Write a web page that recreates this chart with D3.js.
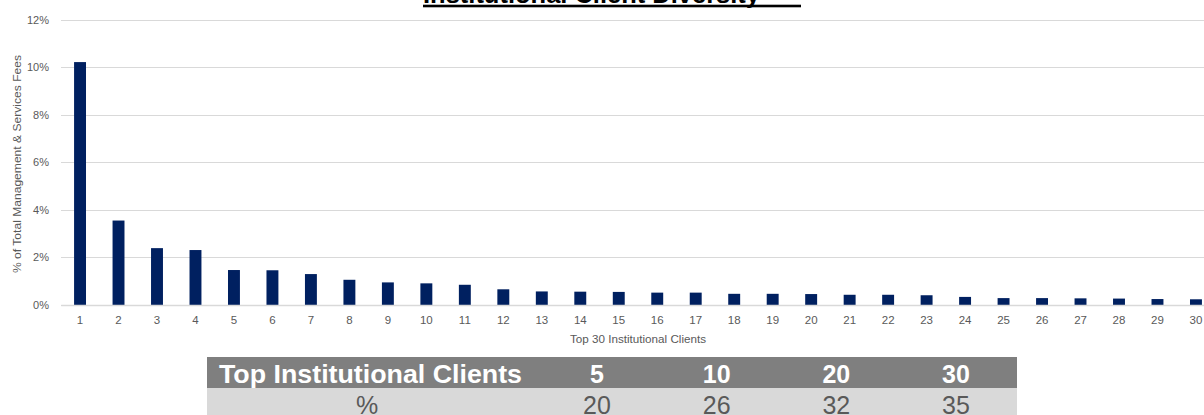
<!DOCTYPE html>
<html>
<head>
<meta charset="utf-8">
<script src="https://cdn.jsdelivr.net/npm/d3@7"></script>
<style>
  body { margin: 0; background: #fff; }
  svg { display: block; }
</style>
</head>
<body>
<svg id="chart" width="1204" height="415"></svg>
<script>
// top 30 institutional clients, share of total management & services fees
var clients = d3.range(1, 31);
var feeShare = [0.1021, 0.0355, 0.0239, 0.0231, 0.0147, 0.0146, 0.0130, 0.0106, 0.0095, 0.0091,
                0.0085, 0.0066, 0.0057, 0.0056, 0.0055, 0.0052, 0.0052, 0.0047, 0.0047, 0.0046,
                0.0043, 0.0043, 0.0041, 0.0034, 0.0029, 0.0029, 0.0028, 0.0027, 0.0025, 0.0024];
var yTicks = [0, 0.02, 0.04, 0.06, 0.08, 0.10, 0.12];

// summary table
var tableHeader = "Top Institutional Clients";
var tableCols = ["5", "10", "20", "30"];
var tableRowLabel = "%";
var tableValues = ["20", "26", "32", "35"];

var svg = d3.select("#chart");
var axisFont = "'Liberation Sans', Arial, sans-serif";

var x = d3.scaleBand()
  .domain(clients)
  .range([60.8, 1215.2])
  .paddingInner(0.69)
  .paddingOuter(0.345);

var y = d3.scaleLinear()
  .domain([0, 0.12])
  .range([305, 19.5]);

// gridlines
svg.append("g")
  .selectAll("line")
  .data(yTicks)
  .enter()
  .append("line")
  .attr("x1", 61)
  .attr("x2", 1215)
  .attr("y1", function(d) { return Math.round(y(d)) + 0.5; })
  .attr("y2", function(d) { return Math.round(y(d)) + 0.5; })
  .attr("stroke", "#d9d9d9")
  .attr("stroke-width", 1);

// y axis labels
var yAxis = svg.append("g")
  .attr("transform", "translate(49,0)")
  .call(d3.axisLeft(y).tickValues(yTicks).tickSize(0).tickPadding(0)
    .tickFormat(function(d) { return Math.round(d * 100) + "%"; }));
yAxis.select(".domain").remove();
yAxis.selectAll("text")
  .attr("fill", "#595959")
  .style("font-family", axisFont)
  .style("font-size", "11px");

// bars
svg.append("g")
  .selectAll("rect")
  .data(feeShare)
  .enter()
  .append("rect")
  .attr("x", function(d, i) { return x(clients[i]); })
  .attr("y", function(d) { return y(d); })
  .attr("width", x.bandwidth())
  .attr("height", function(d) { return y(0) - y(d); })
  .attr("fill", "#002060");

// x axis
var xAxis = svg.append("g")
  .attr("transform", "translate(0,305)")
  .call(d3.axisBottom(x).tickSize(0).tickPadding(11));
xAxis.select(".domain")
  .attr("stroke", "#d9d9d9")
  .attr("stroke-width", 1.5);
xAxis.selectAll("text")
  .attr("fill", "#595959")
  .style("font-family", axisFont)
  .style("font-size", "11.5px");

// axis titles
svg.append("text")
  .attr("x", 638)
  .attr("y", 343)
  .attr("text-anchor", "middle")
  .attr("fill", "#595959")
  .attr("textLength", 136)
  .attr("lengthAdjust", "spacingAndGlyphs")
  .style("font-family", axisFont)
  .style("font-size", "11px")
  .text("Top 30 Institutional Clients");

svg.append("text")
  .attr("transform", "translate(21,164) rotate(-90)")
  .attr("text-anchor", "middle")
  .attr("fill", "#595959")
  .attr("textLength", 218)
  .attr("lengthAdjust", "spacingAndGlyphs")
  .style("font-family", axisFont)
  .style("font-size", "11.5px")
  .text("% of Total Management  & Services Fees");

// title, mostly cut off at the top
svg.append("text")
  .attr("x", 423)
  .attr("y", 3)
  .attr("fill", "#000")
  .attr("textLength", 337)
  .attr("lengthAdjust", "spacingAndGlyphs")
  .style("font-family", "'Liberation Sans', Arial, sans-serif")
  .style("font-weight", "bold")
  .style("font-size", "25px")
  .text("Institutional Client Diversity");
svg.append("rect")
  .attr("x", 423)
  .attr("y", 4.7)
  .attr("width", 378)
  .attr("height", 2.6)
  .attr("fill", "#000");

// table
var colX = d3.scalePoint()
  .domain(tableCols)
  .range([597, 956]);
var tableFont = "'Liberation Sans', Arial, sans-serif";

svg.append("rect")
  .attr("x", 207).attr("y", 357)
  .attr("width", 810).attr("height", 31)
  .attr("fill", "#7f7f7f");
svg.append("rect")
  .attr("x", 207).attr("y", 388)
  .attr("width", 810).attr("height", 30)
  .attr("fill", "#d9d9d9");

svg.append("text")
  .attr("x", 219)
  .attr("y", 383)
  .attr("fill", "#fff")
  .attr("textLength", 303)
  .attr("lengthAdjust", "spacingAndGlyphs")
  .style("font-family", tableFont)
  .style("font-weight", "bold")
  .style("font-size", "25px")
  .text(tableHeader);

svg.append("g")
  .selectAll("text")
  .data(tableCols)
  .enter()
  .append("text")
  .attr("x", function(d) { return colX(d); })
  .attr("y", 383)
  .attr("text-anchor", "middle")
  .attr("fill", "#fff")
  .style("font-family", tableFont)
  .style("font-weight", "bold")
  .style("font-size", "25px")
  .text(function(d) { return d; });

svg.append("text")
  .attr("x", 367)
  .attr("y", 414)
  .attr("text-anchor", "middle")
  .attr("fill", "#595959")
  .style("font-family", tableFont)
  .style("font-size", "25px")
  .text(tableRowLabel);

svg.append("g")
  .selectAll("text")
  .data(tableValues)
  .enter()
  .append("text")
  .attr("x", function(d, i) { return colX(tableCols[i]); })
  .attr("y", 414)
  .attr("text-anchor", "middle")
  .attr("fill", "#595959")
  .style("font-family", tableFont)
  .style("font-size", "25px")
  .text(function(d) { return d; });
</script>
</body>
</html>
